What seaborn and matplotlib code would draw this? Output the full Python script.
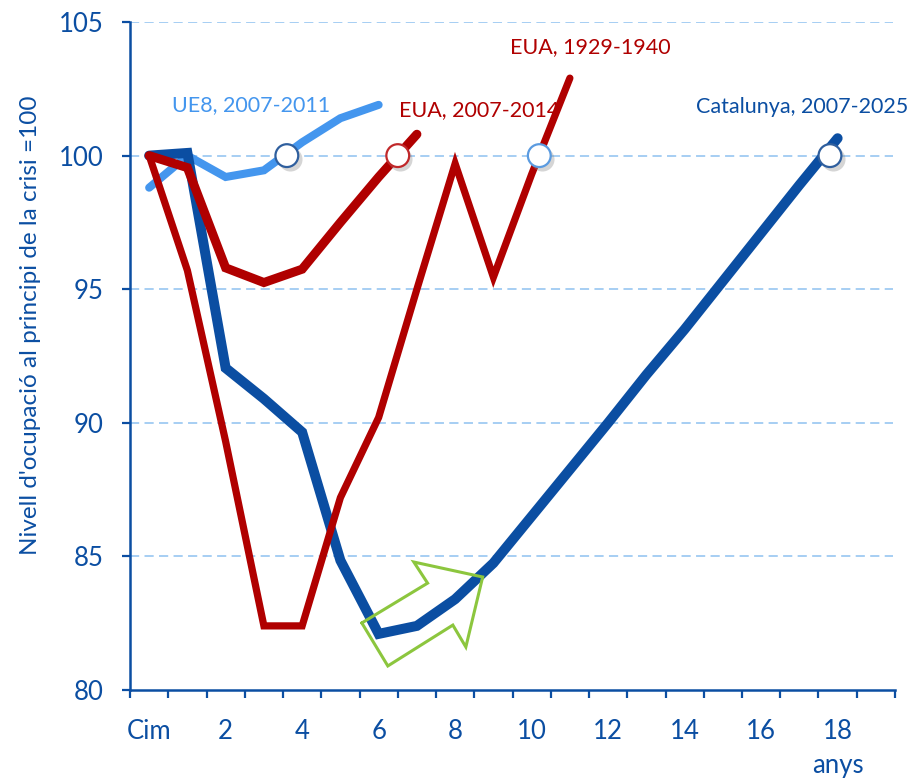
import numpy as np
import pandas as pd
import seaborn as sns
import matplotlib.pyplot as plt

# categories: years since the peak ("Cim" = 0)
years = list(range(20))
tick_pos = list(range(0, 19, 2))
tick_labels = ["Cim", "2", "4", "6", "8", "10", "12", "14", "16", "18"]

catalunya = [100.0, 100.1, 92.05, 90.9, 89.65, 84.85, 82.1, 82.4, 83.4, 84.75,
             86.5, 88.25, 90.0, 91.8, 93.5, 95.3, 97.1, 98.9, 100.65]
ue8 = [98.8, 100.0, 99.2, 99.45, 100.5, 101.4, 101.9]
eua_0714 = [100.0, 99.55, 95.8, 95.25, 95.75, 97.5, 99.2, 100.8]
eua_2940 = [100.0, 95.7, 89.3, 82.4, 82.4, 87.2, 90.2, 95.0, 99.7, 95.45, 99.3, 102.9]

# where each series gets back to 100
recov_x = [3.6, 6.5, 10.2, 17.8]
recov_y = [100, 100, 100, 100]
recov_edge = ["#2f5f9e", "#c0282a", "#5b9be0", "#2f5f9e"]

# green outline arrow
arrow_x = [5.56, 7.28, 6.92, 8.72, 8.28, 7.94, 6.24, 5.56]
arrow_y = [82.51, 84.0, 84.79, 84.23, 81.61, 82.43, 80.90, 82.51]

BLUE = "#0b4ea2"
LBLUE = "#4496ee"
RED = "#b00000"
GREEN = "#8cc63e"
GRID = "#8ec1f0"

sns.set_style("white")
plt.rcParams['font.family'] = ['Lato', 'DejaVu Sans']

fig = plt.figure(figsize=(9.17, 7.81), dpi=100)
ax = fig.add_axes([0.1418, 0.1165, 0.976 - 0.1418, 0.9718 - 0.1165])

for v in [85, 90, 95, 100, 105]:
    ax.plot([-0.5, 19.45], [v, v], color=GRID, lw=1.1, dashes=(6, 3.5), zorder=1)

sns.lineplot(x=years[:len(ue8)], y=ue8, color=LBLUE, lw=5.8, sort=False, ax=ax,
             solid_capstyle='round', solid_joinstyle='miter', zorder=2)
sns.lineplot(x=years[:len(catalunya)], y=catalunya, color=BLUE, lw=7.2, sort=False, ax=ax,
             solid_capstyle='round', solid_joinstyle='miter', zorder=3)
sns.lineplot(x=years[:len(eua_2940)], y=eua_2940, color=RED, lw=5.2, sort=False, ax=ax,
             solid_capstyle='round', solid_joinstyle='miter', zorder=4)
sns.lineplot(x=years[:len(eua_0714)], y=eua_0714, color=RED, lw=6.5, sort=False, ax=ax,
             solid_capstyle='round', solid_joinstyle='miter', zorder=5)

ax.plot(arrow_x, arrow_y, color=GREEN, lw=2.2, solid_joinstyle='miter', zorder=6)

# recovery markers with a soft shadow
ax.scatter(np.array(recov_x) + 0.07, np.array(recov_y) - 0.14, s=300, color="#888888",
           alpha=0.35, linewidths=0, zorder=7)
ax.scatter(recov_x, recov_y, s=270, facecolor="white", edgecolors=recov_edge,
           linewidths=1.6, zorder=8)

txt = dict(fontsize=15.5, va='center', ha='left', zorder=3.5)
ax.text(0.6, 101.9, "UE8, 2007-2011", color=LBLUE, **txt)
ax.text(6.53, 101.7, "EUA, 2007-2014", color=RED, **txt)
ax.text(9.43, 104.06, "EUA, 1929-1940", color=RED, **txt)
ax.text(14.31, 101.82, "Catalunya, 2007-2025", color=BLUE, **txt)

ax.set_xlim(-0.5, 19.5)
ax.set_ylim(80, 105)
ax.set_yticks([80, 85, 90, 95, 100, 105])
ax.set_xticks(np.arange(-0.5, 20, 1))
ax.set_xticklabels([])
ax.set_xticks(tick_pos, minor=True)
ax.set_xticklabels(tick_labels, minor=True)
ax.tick_params(axis='x', which='major', direction='out', length=6, width=1.6,
               color=BLUE, bottom=True)
ax.tick_params(axis='x', which='minor', length=0, pad=21, labelsize=18.5, labelcolor=BLUE)
ax.tick_params(axis='y', direction='out', length=6, width=1.6, color=BLUE,
               left=True, pad=13, labelsize=18.5, labelcolor=BLUE)

for s in ['top', 'right']:
    ax.spines[s].set_visible(False)
for s in ['left', 'bottom']:
    ax.spines[s].set_color(BLUE)
    ax.spines[s].set_linewidth(1.8)

ax.set_xlabel("")
ax.set_ylabel("")
fig.text(31 / 917, 1 - 325 / 781, "Nivell d'ocupació al principi de la crisi =100",
         rotation=90, ha='center', va='center', fontsize=17.5, color=BLUE)
fig.text(838 / 917, 1 - 765 / 781, "anys", ha='center', va='center', fontsize=18.5, color=BLUE)

fig.savefig("out.png", dpi=100)
